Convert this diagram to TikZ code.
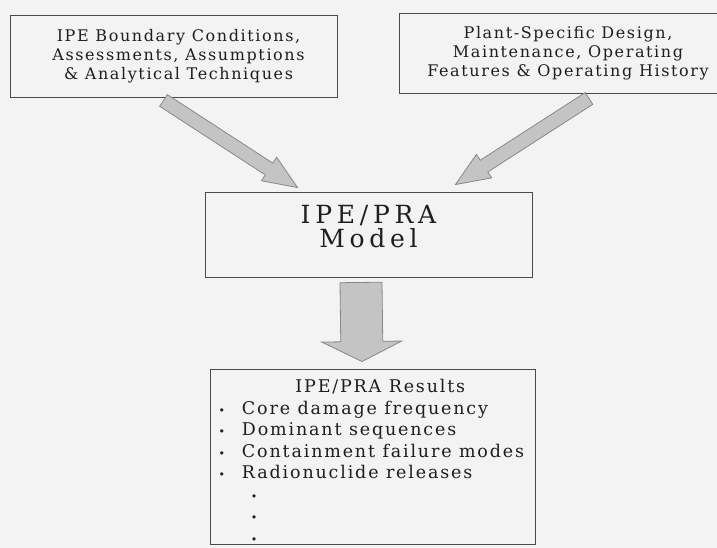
\documentclass[tikz,border=0pt]{standalone}
\usepackage{fontspec}
\setmainfont{DejaVu Serif}[LetterSpace=10]
\newfontfamily\modelfont{DejaVu Serif}[LetterSpace=19]
\newfontfamily\resfont{DejaVu Serif}[LetterSpace=10.5]
\usetikzlibrary{calc}
\definecolor{bg}{HTML}{F3F3F3}
\definecolor{boxline}{HTML}{4A4A4A}
\definecolor{ink}{HTML}{1E1E1E}
\definecolor{arrfill}{HTML}{C4C4C4}
\definecolor{arrline}{HTML}{888888}
\newcommand\tightlines{\lineskiplimit=-30pt\relax}
% #1 start, #2 tip, #3 shaft half width, #4 head half width, #5 head length, #6 style
\newcommand\fatarr[6]{%
  \coordinate (fah) at ($(#2)!#5!(#1)$);
  \draw[#6] ($(#1)!#3!90:(#2)$) -- ($(fah)!#3!90:(#2)$) -- ($(fah)!#4!90:(#2)$)
    -- (#2) -- ($(fah)!#4!-90:(#2)$) -- ($(fah)!#3!-90:(#2)$) -- ($(#1)!#3!-90:(#2)$) -- cycle;}
\begin{document}
\begin{tikzpicture}[x=1pt,y=1pt,
  box/.style={draw=boxline, line width=0.9pt, text=ink, align=center, inner sep=0pt},
  fatarrow/.style={draw=arrline, fill=arrfill, line width=0.8pt, line join=miter}]
\useasboundingbox (0,0) rectangle (717,-548);
\fill[bg] (0,0) rectangle (717,-548);
\clip (0,0) rectangle (717,-548);

\node[box, minimum width=327pt, minimum height=82pt, font=\fontsize{16}{19}\selectfont]
  (A) at (173.5,-56) {\hspace*{10pt}IPE Boundary Conditions,\\\hspace*{10pt}Assessments, Assumptions\\\hspace*{10pt}\& Analytical Techniques};
\node[box, minimum width=338pt, minimum height=80pt, font=\fontsize{16}{19}\selectfont]
  (B) at (568,-53) {Plant-Specific Design,\\Maintenance, Operating\\Features \& Operating History};
\node[box, minimum width=327pt, minimum height=85pt] (M) at (368.5,-234.5) {};
\node[inner sep=0pt, text=ink, align=center,
  font=\modelfont\fontsize{25}{24}\selectfont\tightlines]
  (Mt) at ([yshift=7.5pt]M.center) {IPE/PRA\\Model};
\node[box, minimum width=325pt, minimum height=175pt] (R) at (372.5,-456.5) {};
\node[anchor=north west, inner sep=0pt, text=ink, font=\resfont\fontsize{17.5}{21.5}\selectfont]
  (Rt) at ([xshift=8.75pt,yshift=-9pt]R.north west) {%
  \begin{tabular}{@{}l@{\hspace{17pt}}l@{}}
  \multicolumn{2}{c}{\hspace{18pt}IPE/PRA Results}\\
  {\fontsize{11}{11}\selectfont •} & Core damage frequency\\
  {\fontsize{11}{11}\selectfont •} & Dominant sequences\\
  {\fontsize{11}{11}\selectfont •} & Containment failure modes\\
  {\fontsize{11}{11}\selectfont •} & Radionuclide releases\\
  & \hspace{9pt}{\fontsize{11}{11}\selectfont •}\\
  & \hspace{9pt}{\fontsize{11}{11}\selectfont •}\\
  & \hspace{9pt}{\fontsize{11}{11}\selectfont •}
  \end{tabular}};

\coordinate (a1s) at ([xshift=-10pt,yshift=-3pt]A.south);
\coordinate (a1e) at ([xshift=93pt,yshift=4pt]M.north west);
\coordinate (a2s) at ([xshift=21pt,yshift=-5pt]B.south);
\coordinate (a2e) at ([xshift=-77pt,yshift=7pt]M.north east);
\coordinate (a3s) at ([xshift=-7.5pt,yshift=-5pt]M.south);
\coordinate (a3e) at ([xshift=-10.5pt,yshift=7pt]R.north);
\fatarr{a1s}{a1e}{7pt}{14pt}{34pt}{fatarrow}
\fatarr{a2s}{a2e}{7pt}{14pt}{34pt}{fatarrow}
\fatarr{a3s}{a3e}{21pt}{40pt}{20pt}{fatarrow}
\end{tikzpicture}
\end{document}
